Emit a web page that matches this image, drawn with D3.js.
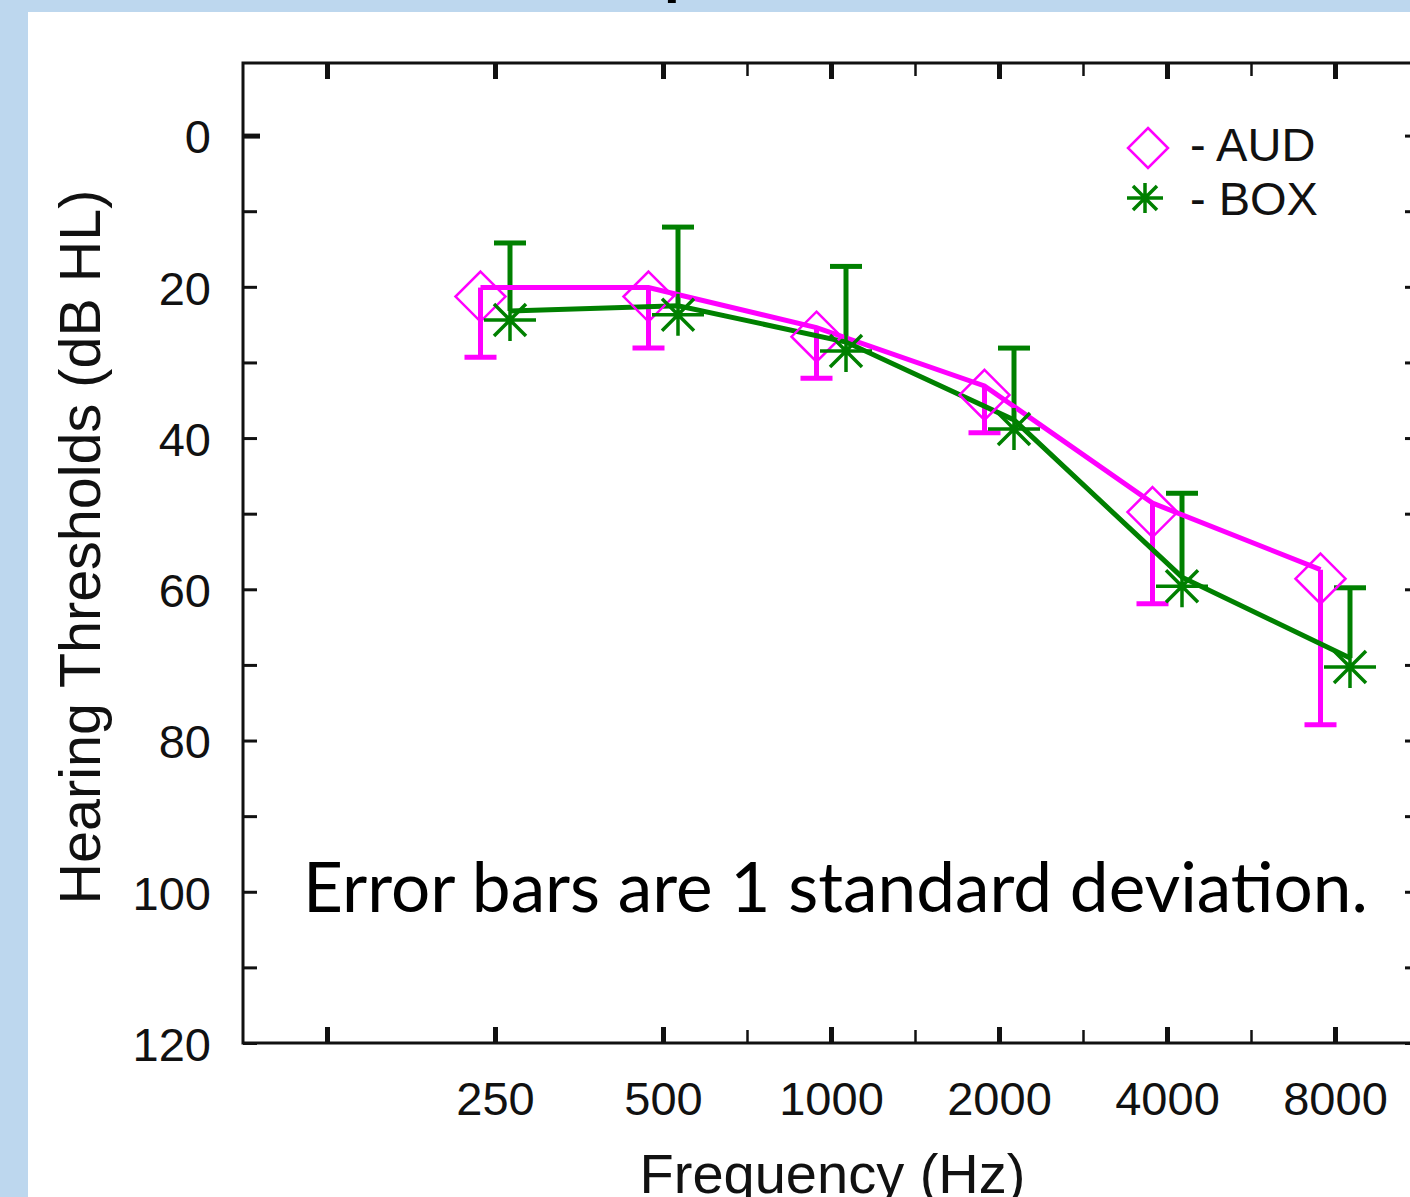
<!DOCTYPE html>
<html>
<head>
<meta charset="utf-8">
<script src="https://cdn.jsdelivr.net/npm/d3@7/dist/d3.min.js"></script>
<style>
  html, body { margin: 0; padding: 0; background: #BDD7EE; overflow: hidden; }
  svg { display: block; }
</style>
</head>
<body>
<script>
// ---------- data ----------
const frequencies = [250, 500, 1000, 2000, 4000, 8000];
const audMean = [20.1, 20.1, 25.4, 33.1, 48.6, 57.4];
const audSD   = [9.2, 8.0, 6.7, 6.2, 13.3, 20.5];
const boxMean = [23.2, 22.5, 27.3, 37.6, 58.4, 69.1];
const boxSD   = [9.0, 10.4, 10.0, 9.5, 11.1, 9.3];

const xMajorTicks = [125, 250, 500, 1000, 2000, 4000, 8000];
const xTickLabels = ["", "250", "500", "1000", "2000", "4000", "8000"];
const xMinorTicks = [707.1, 1414.2, 2828.4, 5656.9];
const yMajorTicks = [0, 20, 40, 60, 80, 100, 120];
const yMinorTicks = [10, 30, 50, 70, 90, 110];

const seriesNames = ["- AUD", "- BOX"];
const titleText = "Comparison of AUD and BOX response thresholds";
const yTitle = "Hearing Thresholds (dB HL)";
const xTitle = "Frequency (Hz)";
const noteText = "Error bars are 1 standard deviation.";

// ---------- layout ----------
const W = 1410, H = 1197;
const L = 243, R = 1419, T = 63, B = 1043;
const MAG = "#FF00FF", GRN = "#008000", INK = "#111";
const FONT = "'Liberation Sans', Arial, sans-serif";

const svg = d3.select("body").append("svg").attr("width", W).attr("height", H);

svg.append("rect").attr("width", W).attr("height", H).attr("fill", "#BDD7EE");

// cut-off slide title (only descenders visible)
const title = svg.append("text")
  .attr("x", 0).attr("y", -7)
  .attr("font-family", "Lato, 'Open Sans', sans-serif")
  .attr("font-weight", "bold").attr("font-size", 64).attr("fill", "#000")
  .text(titleText);
{
  const idx = titleText.indexOf("p");
  const p = title.node().getStartPositionOfChar(idx).x;
  title.attr("x", 664 - p);
}

svg.append("rect").attr("x", 28).attr("y", 12).attr("width", W - 28).attr("height", H - 12).attr("fill", "#fff");

// ---------- scales ----------
const x = d3.scaleLog().base(2).domain([125 / Math.SQRT2, 8000 * Math.SQRT2]).range([L, R]);
const y = d3.scaleLinear().domain([-9.6, 120]).range([T, B]);

// ---------- axes ----------
function styleTicks(g, width) {
  g.select(".domain").remove();
  g.selectAll(".tick line").attr("stroke", INK).attr("stroke-width", width);
  g.selectAll(".tick text").attr("fill", INK).attr("font-family", FONT).attr("font-size", 47);
}

// bottom
const gxb = svg.append("g").attr("transform", `translate(0,${B})`)
  .call(d3.axisBottom(x).tickValues(xMajorTicks).tickSize(-16).tickPadding(38.6)
    .tickFormat((d, i) => xTickLabels[i]));
styleTicks(gxb, 5);
const gxbm = svg.append("g").attr("transform", `translate(0,${B})`)
  .call(d3.axisBottom(x).tickValues(xMinorTicks).tickSize(-13).tickFormat(""));
styleTicks(gxbm, 2.5);
// top
const gxt = svg.append("g").attr("transform", `translate(0,${T})`)
  .call(d3.axisTop(x).tickValues(xMajorTicks).tickSize(-16).tickFormat(""));
styleTicks(gxt, 5);
const gxtm = svg.append("g").attr("transform", `translate(0,${T})`)
  .call(d3.axisTop(x).tickValues(xMinorTicks).tickSize(-13).tickFormat(""));
styleTicks(gxtm, 2.5);
// left
const gyl = svg.append("g").attr("transform", `translate(${L},0)`)
  .call(d3.axisLeft(y).tickValues(yMajorTicks).tickSize(-14).tickPadding(32).tickFormat(d3.format("d")));
styleTicks(gyl, 3);
gyl.selectAll(".tick text").attr("dy", "0.37em");
gyl.selectAll(".tick").filter(d => d === 0).select("line").attr("stroke-width", 5).attr("x2", 17);
const gylm = svg.append("g").attr("transform", `translate(${L},0)`)
  .call(d3.axisLeft(y).tickValues(yMinorTicks).tickSize(-14).tickFormat(""));
styleTicks(gylm, 3);
// right
const gyr = svg.append("g").attr("transform", `translate(${R},0)`)
  .call(d3.axisRight(y).tickValues(yMajorTicks.concat(yMinorTicks)).tickSize(-14).tickFormat(""));
styleTicks(gyr, 3);

// frame
svg.append("rect").attr("x", L).attr("y", T).attr("width", R - L).attr("height", B - T)
  .attr("fill", "none").attr("stroke", INK).attr("stroke-width", 3);

// axis titles
svg.append("text")
  .attr("transform", `translate(100,${(187 + 907) / 2}) rotate(-90)`)
  .attr("text-anchor", "middle").attr("font-family", FONT).attr("font-size", 57.5).attr("fill", INK)
  .text(yTitle);
svg.append("text")
  .attr("x", (640 + 1025) / 2).attr("y", 1193)
  .attr("text-anchor", "middle").attr("font-family", FONT).attr("font-size", 56).attr("fill", INK)
  .text(xTitle);

// ---------- series ----------
const series = [
  { mean: audMean, sd: audSD, color: MAG, dx: -14.5, dir: 1, marker: "diamond" },
  { mean: boxMean, sd: boxSD, color: GRN, dx: 15, dir: -1, marker: "star" }
];
const MARKER_DY = 9;
const px = (s, i) => x(frequencies[i]) + s.dx;

function diamondPath(r) {
  return `M0,${-r}L${r},0L0,${r}L${-r},0Z`;
}
function starPath(h, v, d) {
  return `M${-h},0L${h},0M0,${-v}L0,${v}M${-d},${-d}L${d},${d}M${-d},${d}L${d},${-d}`;
}

// error bars
series.forEach(s => {
  const g = svg.append("g").attr("stroke", s.color).attr("stroke-width", 5).attr("fill", "none");
  s.mean.forEach((m, i) => {
    const xx = px(s, i), y0 = y(m), y1 = y(m + s.dir * s.sd[i]);
    g.append("line").attr("x1", xx).attr("x2", xx).attr("y1", y0).attr("y2", y1);
    g.append("line").attr("x1", xx - 16).attr("x2", xx + 16).attr("y1", y1).attr("y2", y1);
  });
});

// lines
series.forEach(s => {
  const line = d3.line().x((d, i) => px(s, i)).y(d => y(d));
  svg.append("path").datum(s.mean).attr("d", line)
    .attr("fill", "none").attr("stroke", s.color).attr("stroke-width", 5).attr("stroke-linejoin", "miter");
});

// markers
series.forEach(s => {
  svg.append("g").selectAll("path").data(s.mean).join("path")
    .attr("transform", (d, i) => `translate(${px(s, i)},${y(d) + MARKER_DY})`)
    .attr("d", s.marker === "diamond" ? diamondPath(25) : starPath(26, 21, 16))
    .attr("fill", "none").attr("stroke", s.color)
    .attr("stroke-width", s.marker === "diamond" ? 2.5 : 3.5);
});

// legend
const legY = [148, 198];
const legMarkX = [1148, 1145];
series.forEach((s, i) => {
  svg.append("path")
    .attr("transform", `translate(${legMarkX[i]},${legY[i]})`)
    .attr("d", s.marker === "diamond" ? diamondPath(20) : starPath(18, 15, 12))
    .attr("fill", "none").attr("stroke", s.color).attr("stroke-width", s.marker === "diamond" ? 2.5 : 3.5);
  svg.append("text").attr("x", 1190).attr("y", [161, 215][i])
    .attr("font-family", FONT).attr("font-size", 47).attr("fill", INK)
    .text(seriesNames[i]);
});

// note
const note = svg.append("text").attr("x", 303).attr("y", 912)
  .attr("font-family", "Lato, 'Open Sans', sans-serif").attr("font-size", 64).attr("fill", "#000")
  .text(noteText);
{
  const w = note.node().getComputedTextLength();
  note.attr("font-size", 64 * 1065 / w);
}
</script>
</body>
</html>
